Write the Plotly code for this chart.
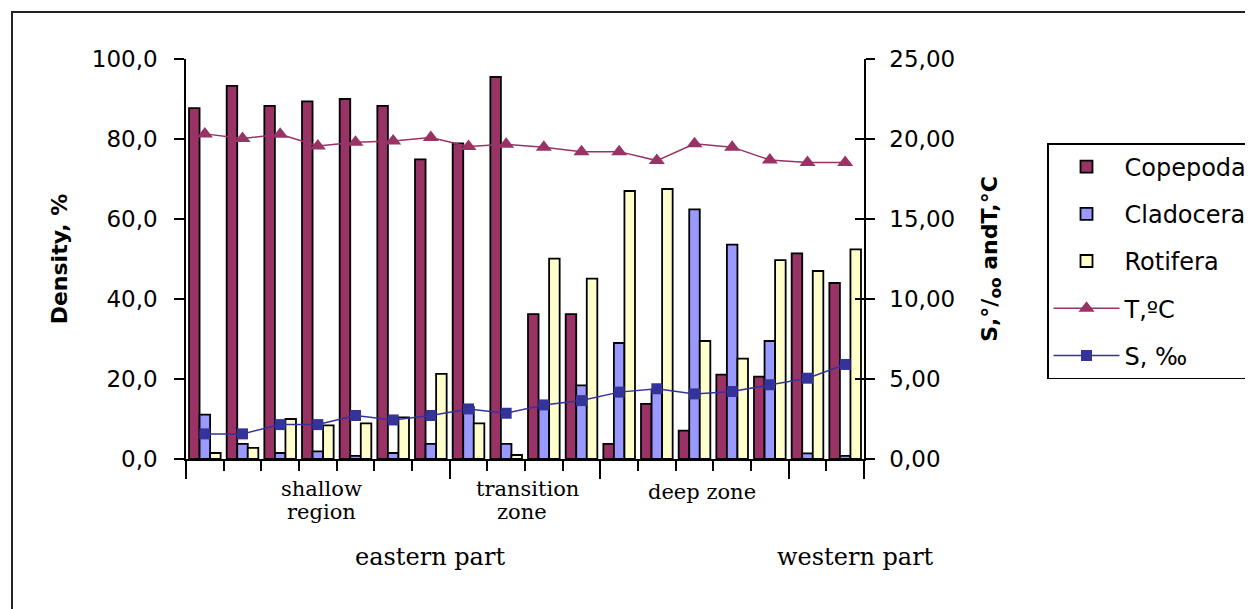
import plotly.graph_objects as go
import numpy as np

stations = list(range(1, 19))
copepoda = [87.7, 93.3, 88.3, 89.4, 90.0, 88.3, 74.9, 78.9, 95.5, 36.2, 36.2, 3.8, 13.8, 7.1, 21.1, 20.6, 51.4, 44.0]
cladocera = [11.1, 3.8, 1.5, 1.9, 0.8, 1.5, 3.8, 13.0, 3.8, 13.0, 18.4, 29.0, 17.0, 62.4, 53.6, 29.5, 1.4, 0.8]
rotifera = [1.5, 2.8, 10.0, 8.4, 8.9, 10.4, 21.3, 8.9, 1.0, 50.1, 45.1, 67.0, 67.5, 29.5, 25.1, 49.7, 47.0, 52.4]
temperature = [20.32, 20.03, 20.30, 19.57, 19.80, 19.88, 20.09, 19.53, 19.67, 19.49, 19.21, 19.21, 18.65, 19.70, 19.49, 18.69, 18.53, 18.53]
salinity = [1.57, 1.57, 2.15, 2.15, 2.72, 2.44, 2.72, 3.13, 2.86, 3.38, 3.65, 4.18, 4.39, 4.07, 4.22, 4.64, 5.05, 5.91]

group_sizes = [7, 4, 5, 2]
part_labels = ["eastern part", "western part"]

x = list(range(len(stations)))
bounds = [-0.5] + list(np.cumsum(group_sizes) - 0.5)

W, H = 1253, 609
OFF = 8  # page body margin offset
L, R, T, B = 186 - OFF, 864 - OFF, 59 - OFF, 459 - OFF
pw, ph = R - L, B - T

def px_x(p):
    return (p - OFF - L) / pw

def px_y(p):
    return (B - (p - OFF)) / ph

fig = go.Figure()
bar_line = dict(color="black", width=1.8)
fig.add_trace(go.Bar(x=x, y=copepoda, name="Copepoda", marker=dict(color="#993366", line=bar_line), legendgroup="a"))
fig.add_trace(go.Bar(x=x, y=cladocera, name="Cladocera", marker=dict(color="#9999FF", line=bar_line), legendgroup="b"))
fig.add_trace(go.Bar(x=x, y=rotifera, name="Rotifera", marker=dict(color="#FFFFCC", line=bar_line), legendgroup="c"))
fig.add_trace(go.Scatter(x=x, y=temperature, name="T,ºC", yaxis="y2", mode="lines+markers",
                         line=dict(color="#993366", width=1.5),
                         marker=dict(symbol="triangle-up", size=14, color="#993366"), legendgroup="d"))
fig.add_trace(go.Scatter(x=x, y=salinity, name="S, ‰", yaxis="y2", mode="lines+markers",
                         line=dict(color="#333399", width=1.5),
                         marker=dict(symbol="square", size=11, color="#333399"), legendgroup="e"))

axis_font = dict(family="DejaVu Sans", size=23, color="black")

fig.update_layout(
    width=W, height=H,
    margin=dict(l=L, r=W - R, t=T, b=H - B, autoexpand=False),
    paper_bgcolor="white", plot_bgcolor="white",
    separators=",.",
    barmode="group", bargap=0.16, bargroupgap=0,
    showlegend=True,
    legend=dict(x=px_x(1047), y=px_y(143), xanchor="left", yanchor="top",
                bordercolor="black", borderwidth=1.5, bgcolor="white",
                font=dict(family="DejaVu Sans", size=24, color="black"),
                tracegroupgap=13, itemwidth=66, traceorder="grouped"),
    xaxis=dict(range=[-0.5, len(stations) - 0.5], showgrid=False, zeroline=False,
               showline=True, linecolor="black", linewidth=1.5,
               tickmode="array", tickvals=bounds, ticks="outside", ticklen=18,
               tickwidth=1.5, tickcolor="black", showticklabels=False,
               minor=dict(tickmode="linear", tick0=-0.5, dtick=1, ticks="outside",
                          ticklen=10, tickwidth=1.5, tickcolor="black")),
    yaxis=dict(range=[0, 100], dtick=20, tickformat=".1f", showgrid=False, zeroline=False,
               showline=True, linecolor="black", linewidth=1.5,
               ticks="outside", ticklen=10, tickwidth=1.5, tickcolor="black",
               tickfont=axis_font, ticklabelstandoff=12,
               title=dict(text="<b>Density, %</b>", font=dict(family="DejaVu Sans", size=22, color="black"),
                          standoff=18)),
    yaxis2=dict(range=[0, 25], dtick=5, tickformat=".2f", overlaying="y", side="right",
                showgrid=False, zeroline=False, showline=True, linecolor="black", linewidth=1.5,
                ticks="outside", ticklen=9, tickwidth=1.5, tickcolor="black",
                tickfont=axis_font, ticklabelstandoff=10,
                title=dict(text="<b>S,°/<sub>oo</sub> andT,°C</b>",
                           font=dict(family="DejaVu Sans", size=22, color="black"), standoff=27)),
    yaxis3=dict(range=[0, 25], dtick=5, overlaying="y", side="right", showgrid=False,
                zeroline=False, showline=False, ticks="inside", ticklen=9, tickwidth=1.5,
                tickcolor="black", showticklabels=False),
)

# invisible trace to activate yaxis3 (for crossing tick marks on the right axis)
fig.add_trace(go.Scatter(x=[None], y=[None], yaxis="y3", showlegend=False, hoverinfo="skip"))

serif = dict(family="DejaVu Serif", size=21, color="black")
ann = [
    ("shallow", 321, 489), ("region", 321, 512),
    ("transition", 527, 489), ("zone", 522, 512),
    ("deep zone", 702, 492),
]
for txt, xp, yp in ann:
    fig.add_annotation(text=txt, x=px_x(xp), y=px_y(yp), xref="paper", yref="paper",
                       showarrow=False, font=serif, xanchor="center", yanchor="middle")
for txt, xp in zip(part_labels, [430, 855]):
    fig.add_annotation(text=txt, x=px_x(xp), y=px_y(557), xref="paper", yref="paper",
                       showarrow=False, font=dict(family="DejaVu Serif", size=24, color="black"),
                       xanchor="center", yanchor="middle")

# outer chart frame
fig.add_shape(type="rect", xref="paper", yref="paper",
              x0=px_x(12), y0=px_y(640), x1=px_x(1290), y1=px_y(12),
              line=dict(color="#222222", width=2), layer="below")

fig.write_html("out.html")
